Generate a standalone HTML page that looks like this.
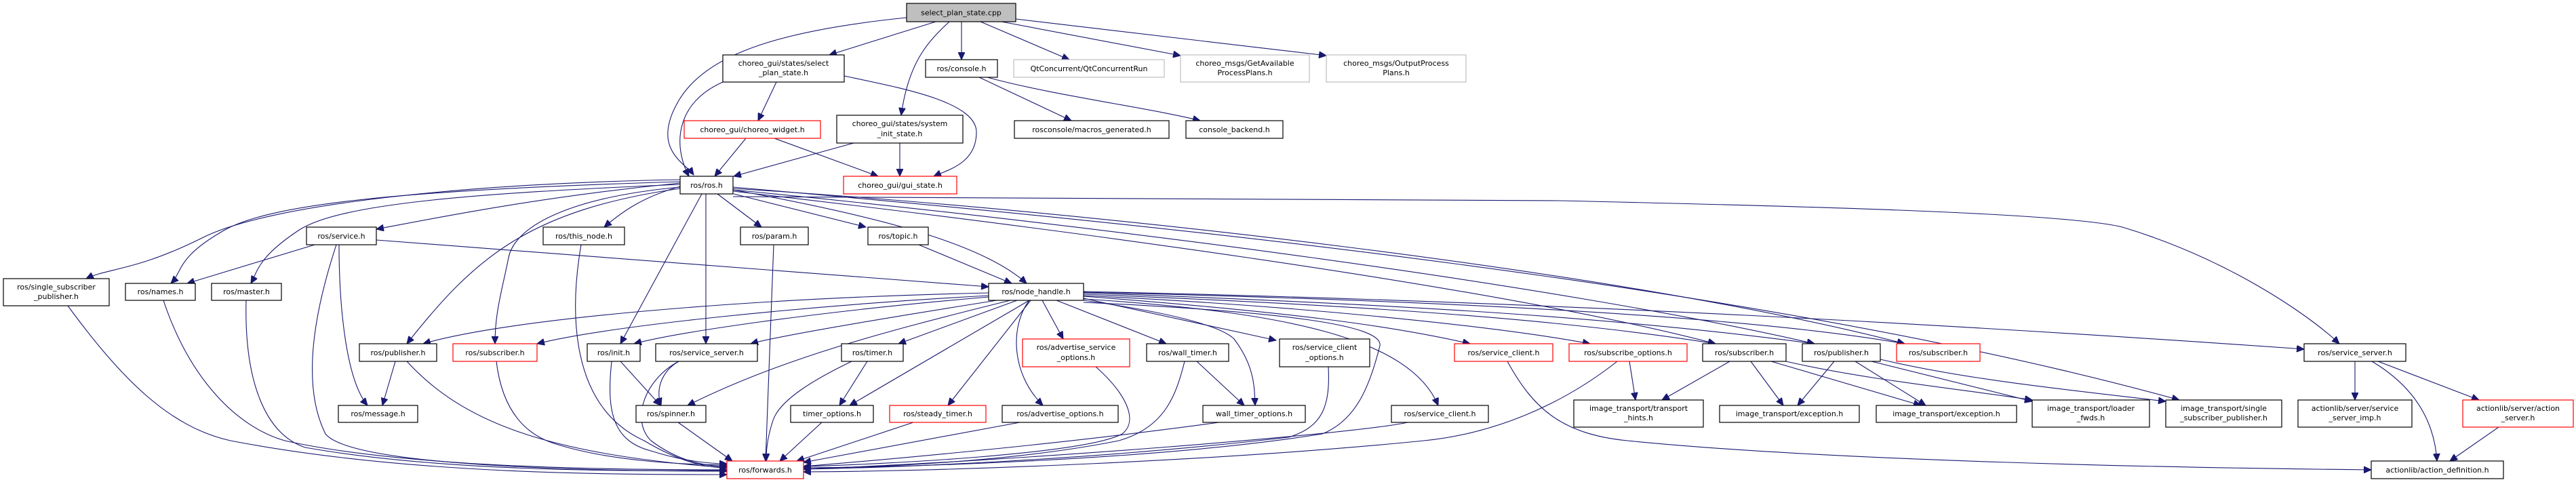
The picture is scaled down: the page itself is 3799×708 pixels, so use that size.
<!DOCTYPE html>
<html><head><meta charset="utf-8"><style>
html,body{margin:0;padding:0;background:#fff;}
svg{display:block;}
text{font-family:"DejaVu Sans","Liberation Sans",sans-serif;font-size:11px;fill:#000;text-anchor:middle;}
.e{fill:none;stroke:#191970;stroke-width:1.1;marker-end:url(#a);}
.b{fill:#fff;stroke:#000;stroke-width:1.2;}
.r{fill:#fff;stroke:#ff0000;stroke-width:1.2;}
.g{fill:#fff;stroke:#bfbfbf;stroke-width:1.2;}
</style></head><body>
<svg width="3799" height="708" viewBox="0 0 3799 708" xmlns="http://www.w3.org/2000/svg">
<defs><marker id="a" markerUnits="userSpaceOnUse" markerWidth="12" markerHeight="10" refX="11" refY="5" orient="auto"><path d="M0,0 L11,5 L0,10 z" fill="#191970" stroke="#191970"/></marker></defs>
<g>
<path class="e" d="M1337,26 C1150,45 1040,80 1000,150 S1010,240 1023,258"/>
<path class="e" d="M1380,32 L1223,81"/>
<path class="e" d="M1400,32 C1370,60 1340,90 1329,170"/>
<path class="e" d="M1418,32 L1418,88"/>
<path class="e" d="M1446,32 L1577,88"/>
<path class="e" d="M1477,32 L1741,82"/>
<path class="e" d="M1498,28 L1956,82"/>
<path class="e" d="M1145,121 L1118,178"/>
<path class="e" d="M1066,121 C1000,150 990,210 1016,260"/>
<path class="e" d="M1245,112 C1330,130 1440,150 1440,195 S1400,250 1377,260"/>
<path class="e" d="M1100,204 L1054,260"/>
<path class="e" d="M1142,204 L1295,260"/>
<path class="e" d="M1259,211 L1082,260"/>
<path class="e" d="M1327,211 L1327,260"/>
<path class="e" d="M1444,114 L1580,178"/>
<path class="e" d="M1456,114 C1550,140 1700,160 1770,178"/>
<path class="e" d="M1058,286 L1123,335"/>
<path class="e" d="M1082,286 L1277,335"/>
<path class="e" d="M1081,280 C1300,320 1450,360 1514,418"/>
<path class="e" d="M1041,286 L1041,507"/>
<path class="e" d="M1035,286 L915,507"/>
<path class="e" d="M1003,270 C800,290 650,320 555,338"/>
<path class="e" d="M1003,275 C950,290 920,310 891,335"/>
<path class="e" d="M1003,278 C780,310 700,380 600,507"/>
<path class="e" d="M1003,276 C850,290 760,330 750,380 S730,460 730,507"/>
<path class="e" d="M1003,268 C600,280 400,300 330,340 S270,400 252,418"/>
<path class="e" d="M1003,272 C700,285 500,300 440,340 S380,400 370,418"/>
<path class="e" d="M1003,265 C700,270 400,300 300,350 S160,395 127,411"/>
<path class="e" d="M1081,282 C1500,330 2200,420 2530,507"/>
<path class="e" d="M1081,280 C1600,330 2300,420 2676,507"/>
<path class="e" d="M1081,278 C1600,310 2400,400 2809,507"/>
<path class="e" d="M1081,290 L2300,296 C2700,305 3050,315 3130,335 C3280,380 3400,460 3450,507"/>
<path class="e" d="M1081,276 C1700,330 2600,420 3214,590"/>
<path class="e" d="M464,361 L276,418"/>
<path class="e" d="M555,354 L1458,423"/>
<path class="e" d="M500,361 C500,450 510,560 542,598"/>
<path class="e" d="M496,361 C470,440 440,560 480,640 C520,690 900,695 1072,695"/>
<path class="e" d="M241,443 C280,560 350,630 420,650 C600,690 900,693 1072,693"/>
<path class="e" d="M363,443 C360,560 390,640 450,660 C650,695 900,695 1072,694"/>
<path class="e" d="M100,451 C180,560 250,630 340,650 C600,700 900,700 1072,700"/>
<path class="e" d="M857,361 C840,460 840,600 950,650 C1000,680 1040,690 1072,690"/>
<path class="e" d="M1141,361 L1129,680"/>
<path class="e" d="M1355,361 L1492,418"/>
<path class="e" d="M583,533 L564,598"/>
<path class="e" d="M600,533 C680,620 800,670 1072,690"/>
<path class="e" d="M732,533 C740,600 770,640 820,655 C900,680 1000,685 1072,686"/>
<path class="e" d="M915,533 L974,598"/>
<path class="e" d="M902,533 C895,600 900,650 960,665 C1000,678 1040,684 1072,684"/>
<path class="e" d="M1001,533 C980,545 965,570 975,598"/>
<path class="e" d="M1001,533 C950,560 930,620 960,650 C1000,680 1040,688 1072,688"/>
<path class="e" d="M1000,623 L1080,680"/>
<path class="e" d="M1458,432 C1100,440 750,470 624,507"/>
<path class="e" d="M1458,436 C1200,450 900,480 792,507"/>
<path class="e" d="M1458,438 C1200,460 1000,490 935,507"/>
<path class="e" d="M1470,443 C1300,470 1150,495 1107,507"/>
<path class="e" d="M1500,443 L1325,507"/>
<path class="e" d="M1518,443 L1253,598"/>
<path class="e" d="M1490,443 C1300,490 1150,530 1014,598"/>
<path class="e" d="M1520,443 L1398,598"/>
<path class="e" d="M1518,443 C1490,480 1490,550 1538,598"/>
<path class="e" d="M1537,443 L1568,500"/>
<path class="e" d="M1558,443 L1720,507"/>
<path class="e" d="M1598,443 C1720,460 1800,480 1820,500 C1850,540 1850,570 1851,598"/>
<path class="e" d="M1598,440 L1882,502"/>
<path class="e" d="M1598,446 C1900,460 2040,480 2035,510 C2020,570 2000,620 1950,640 C1700,680 1300,690 1185,690"/>
<path class="e" d="M1598,441 C1900,460 2080,500 2121,598"/>
<path class="e" d="M1598,437 C1900,460 2050,480 2168,507"/>
<path class="e" d="M1598,436 C1900,450 2200,480 2345,507"/>
<path class="e" d="M1598,434 C2000,450 2300,470 2530,507"/>
<path class="e" d="M1598,432 C2100,450 2400,470 2676,507"/>
<path class="e" d="M1598,431 C2200,445 2600,470 2809,507"/>
<path class="e" d="M1598,430 C2300,445 2900,480 3398,515"/>
<path class="e" d="M1616,541 C1660,580 1680,620 1655,640 C1600,670 1300,685 1185,688"/>
<path class="e" d="M1279,533 L1238,598"/>
<path class="e" d="M1256,533 C1200,560 1150,590 1140,620 C1130,650 1130,670 1130,680"/>
<path class="e" d="M1212,623 L1150,680"/>
<path class="e" d="M1347,623 L1175,680"/>
<path class="e" d="M1504,623 L1185,682"/>
<path class="e" d="M1765,533 L1835,598"/>
<path class="e" d="M1747,533 C1735,580 1720,630 1650,650 C1500,680 1300,690 1185,690"/>
<path class="e" d="M1798,623 C1600,650 1400,670 1185,688"/>
<path class="e" d="M1959,541 C1962,600 1950,630 1900,645 C1600,680 1300,690 1185,692"/>
<path class="e" d="M2076,623 C2000,640 1500,680 1185,692"/>
<path class="e" d="M2385,533 C2300,600 2200,640 2100,650 C1800,680 1400,695 1185,696"/>
<path class="e" d="M2403,533 L2412,590"/>
<path class="e" d="M2223,533 C2260,600 2300,640 2400,650 C2700,680 3200,690 3497,693"/>
<path class="e" d="M2551,533 L2451,590"/>
<path class="e" d="M2582,533 L2630,598"/>
<path class="e" d="M2612,533 L2833,598"/>
<path class="e" d="M2634,533 C2750,560 2900,575 2997,590"/>
<path class="e" d="M2705,533 L2651,598"/>
<path class="e" d="M2736,533 L2840,598"/>
<path class="e" d="M2760,533 L2997,592"/>
<path class="e" d="M2773,530 C2900,560 3050,575 3194,592"/>
<path class="e" d="M3473,533 L3473,590"/>
<path class="e" d="M3507,533 L3656,590"/>
<path class="e" d="M3498,533 C3560,570 3590,620 3594,680"/>
<path class="e" d="M3685,630 L3613,680"/>
</g>
<g>
<rect x="1337" y="5" width="161" height="27" fill="#bfbfbf" stroke="#000" stroke-width="1.2"/><text x="1417.5" y="22.5">select_plan_state.cpp</text>
<rect class="b" x="1066" y="81" width="179" height="40"/><text x="1155.5" y="97">choreo_gui/states/select</text><text x="1155.5" y="111">_plan_state.h</text>
<rect class="b" x="1365" y="88" width="106" height="26"/><text x="1418" y="105">ros/console.h</text>
<rect class="g" x="1495" y="88" width="222" height="26"/><text x="1606" y="105">QtConcurrent/QtConcurrentRun</text>
<rect class="g" x="1741" y="81" width="190" height="40"/><text x="1836" y="97">choreo_msgs/GetAvailable</text><text x="1836" y="111">ProcessPlans.h</text>
<rect class="g" x="1956" y="81" width="206" height="40"/><text x="2059" y="97">choreo_msgs/OutputProcess</text><text x="2059" y="111">Plans.h</text>
<rect class="r" x="1009" y="178" width="201" height="26"/><text x="1109.5" y="195">choreo_gui/choreo_widget.h</text>
<rect class="b" x="1234" y="170" width="186" height="41"/><text x="1327" y="186">choreo_gui/states/system</text><text x="1327" y="201">_init_state.h</text>
<rect class="b" x="1496" y="178" width="228" height="26"/><text x="1610" y="195">rosconsole/macros_generated.h</text>
<rect class="b" x="1749" y="178" width="143" height="26"/><text x="1820.5" y="195">console_backend.h</text>
<rect class="b" x="1003" y="260" width="78" height="26"/><text x="1042" y="277">ros/ros.h</text>
<rect class="r" x="1244" y="260" width="167" height="26"/><text x="1327.5" y="277">choreo_gui/gui_state.h</text>
<rect class="b" x="452" y="335" width="103" height="26"/><text x="503.5" y="352">ros/service.h</text>
<rect class="b" x="801" y="335" width="120" height="26"/><text x="861" y="352">ros/this_node.h</text>
<rect class="b" x="1092" y="335" width="100" height="26"/><text x="1142" y="352">ros/param.h</text>
<rect class="b" x="1280" y="335" width="89" height="26"/><text x="1324.5" y="352">ros/topic.h</text>
<rect class="b" x="5" y="411" width="156" height="40"/><text x="83" y="427">ros/single_subscriber</text><text x="83" y="441">_publisher.h</text>
<rect class="b" x="185" y="418" width="103" height="25"/><text x="236.5" y="434">ros/names.h</text>
<rect class="b" x="312" y="418" width="103" height="25"/><text x="363.5" y="434">ros/master.h</text>
<rect class="b" x="1458" y="418" width="140" height="25"/><text x="1528" y="434">ros/node_handle.h</text>
<rect class="b" x="530" y="507" width="114" height="26"/><text x="587" y="524">ros/publisher.h</text>
<rect class="r" x="668" y="507" width="124" height="26"/><text x="730" y="524">ros/subscriber.h</text>
<rect class="b" x="866" y="507" width="78" height="26"/><text x="905" y="524">ros/init.h</text>
<rect class="b" x="967" y="507" width="150" height="26"/><text x="1042" y="524">ros/service_server.h</text>
<rect class="b" x="1241" y="507" width="91" height="26"/><text x="1286.5" y="524">ros/timer.h</text>
<rect class="r" x="1508" y="500" width="158" height="41"/><text x="1587" y="516">ros/advertise_service</text><text x="1587" y="531">_options.h</text>
<rect class="b" x="1691" y="507" width="121" height="26"/><text x="1751.5" y="524">ros/wall_timer.h</text>
<rect class="b" x="1887" y="500" width="133" height="41"/><text x="1953.5" y="516">ros/service_client</text><text x="1953.5" y="531">_options.h</text>
<rect class="r" x="2145" y="507" width="145" height="26"/><text x="2217.5" y="524">ros/service_client.h</text>
<rect class="r" x="2314" y="507" width="174" height="26"/><text x="2401" y="524">ros/subscribe_options.h</text>
<rect class="b" x="2511" y="507" width="123" height="26"/><text x="2572.5" y="524">ros/subscriber.h</text>
<rect class="b" x="2658" y="507" width="115" height="26"/><text x="2715.5" y="524">ros/publisher.h</text>
<rect class="r" x="2797" y="507" width="123" height="26"/><text x="2858.5" y="524">ros/subscriber.h</text>
<rect class="b" x="3398" y="507" width="150" height="26"/><text x="3473" y="524">ros/service_server.h</text>
<rect class="b" x="499" y="598" width="117" height="25"/><text x="557.5" y="614">ros/message.h</text>
<rect class="b" x="938" y="598" width="103" height="25"/><text x="989.5" y="614">ros/spinner.h</text>
<rect class="b" x="1166" y="598" width="122" height="25"/><text x="1227" y="614">timer_options.h</text>
<rect class="r" x="1312" y="598" width="142" height="25"/><text x="1383" y="614">ros/steady_timer.h</text>
<rect class="b" x="1478" y="598" width="171" height="25"/><text x="1563.5" y="614">ros/advertise_options.h</text>
<rect class="b" x="1774" y="598" width="151" height="25"/><text x="1849.5" y="614">wall_timer_options.h</text>
<rect class="b" x="2052" y="598" width="143" height="25"/><text x="2123.5" y="614">ros/service_client.h</text>
<rect class="b" x="2321" y="590" width="191" height="40"/><text x="2416.5" y="606">image_transport/transport</text><text x="2416.5" y="620">_hints.h</text>
<rect class="b" x="2536" y="598" width="206" height="25"/><text x="2639" y="614">image_transport/exception.h</text>
<rect class="b" x="2767" y="598" width="207" height="25"/><text x="2870.5" y="614">image_transport/exception.h</text>
<rect class="b" x="2997" y="590" width="173" height="40"/><text x="3083.5" y="606">image_transport/loader</text><text x="3083.5" y="620">_fwds.h</text>
<rect class="b" x="3194" y="590" width="171" height="40"/><text x="3279.5" y="606">image_transport/single</text><text x="3279.5" y="620">_subscriber_publisher.h</text>
<rect class="b" x="3389" y="590" width="168" height="40"/><text x="3473" y="606">actionlib/server/service</text><text x="3473" y="620">_server_imp.h</text>
<rect class="r" x="3632" y="590" width="163" height="40"/><text x="3713.5" y="606">actionlib/server/action</text><text x="3713.5" y="620">_server.h</text>
<rect class="r" x="1072" y="680" width="113" height="26"/><text x="1128.5" y="697">ros/forwards.h</text>
<rect class="b" x="3497" y="680" width="195" height="26"/><text x="3594.5" y="697">actionlib/action_definition.h</text>
</g>
</svg>
</body></html>
